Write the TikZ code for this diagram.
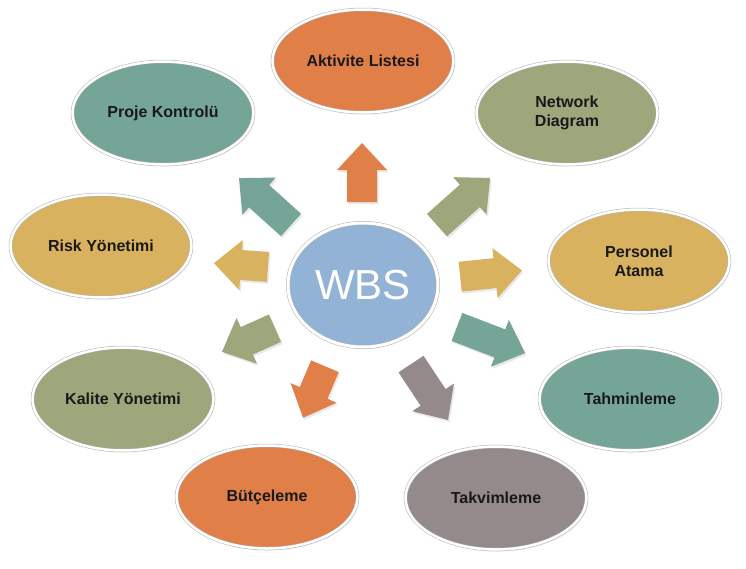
\documentclass[tikz,border=0pt]{standalone}
\usepackage{fontspec}
\setmainfont{Liberation Sans}
\usetikzlibrary{shapes.geometric,shadows}
\definecolor{cOrange}{HTML}{E07F48}
\definecolor{cOlive}{HTML}{9EA67C}
\definecolor{cGold}{HTML}{D9B25F}
\definecolor{cTeal}{HTML}{75A597}
\definecolor{cMauve}{HTML}{958A8B}
\definecolor{cBlue}{HTML}{93B3D6}
\newcommand{\blockarr}[5]{%
  \begin{scope}[shift={(#1,#2)}, rotate=#3]
    \fill[#5, drop shadow={opacity=0.18, shadow xshift=1.5pt, shadow yshift=-2pt}]
      ({-#4/2},-15) -- ({#4/2-27},-15) -- ({#4/2-27},-25) -- ({#4/2},0)
      -- ({#4/2-27},25) -- ({#4/2-27},15) -- ({-#4/2},15) -- cycle;
  \end{scope}}
\tikzset{
  bubble/.style={ellipse, minimum width=181pt, minimum height=103pt, inner sep=0pt,
    fill=#1, draw=black!30, double=white, double distance=2.5pt, line width=0.5pt,
    align=center, font=\fontsize{16}{19}\selectfont\bfseries, text=black!90,
    drop shadow={opacity=0.15, shadow xshift=1.5pt, shadow yshift=-2pt}},
  hub/.style={ellipse, minimum width=150pt, minimum height=124pt, inner sep=0pt,
    fill=cBlue, draw=black!30, double=white, double distance=3pt, line width=0.5pt,
    font=\fontsize{42}{46}\selectfont, text=white,
    drop shadow={opacity=0.15, shadow xshift=1.5pt, shadow yshift=-2pt}}
}
\begin{document}
\begin{tikzpicture}[x=1pt, y=-1pt]
\useasboundingbox (0,0) rectangle (746,568);
\fill[white] (0,0) rectangle (746,568);
% arrows
\blockarr{362}{172.5}{90}{59}{cOrange}
\blockarr{265}{201.5}{138}{70}{cTeal}
\blockarr{463.5}{201.5}{41.6}{71}{cOlive}
\blockarr{241}{265}{176}{54}{cGold}
\blockarr{491}{273.5}{6}{62}{cGold}
\blockarr{491}{340}{-21}{73}{cTeal}
\blockarr{429.5}{392}{-56.5}{67}{cMauve}
\blockarr{314}{392}{-113}{56}{cOrange}
\blockarr{248.5}{340}{204}{58}{cOlive}
% hub
\node[hub] (wbs) at (363,285) {WBS};
% bubbles
\node[bubble=cOrange] (akt) at (363,61) {Aktivite Listesi};
\node[bubble=cOlive] (net) at (567,113) {Network\\Diagram};
\node[bubble=cGold] (per) at (639,261) {Personel\\Atama};
\node[bubble=cTeal] (tah) at (630,399) {Tahminleme};
\node[bubble=cMauve] (tak) at (496,498) {Takvimleme};
\node[bubble=cOrange] (but) at (267,497) {Bütçeleme};
\node[bubble=cOlive] (kal) at (123,399) {Kalite Yönetimi};
\node[bubble=cGold] (ris) at (101,246) {Risk Yönetimi};
\node[bubble=cTeal] (pro) at (163,113) {Proje Kontrolü};
\end{tikzpicture}
\end{document}
